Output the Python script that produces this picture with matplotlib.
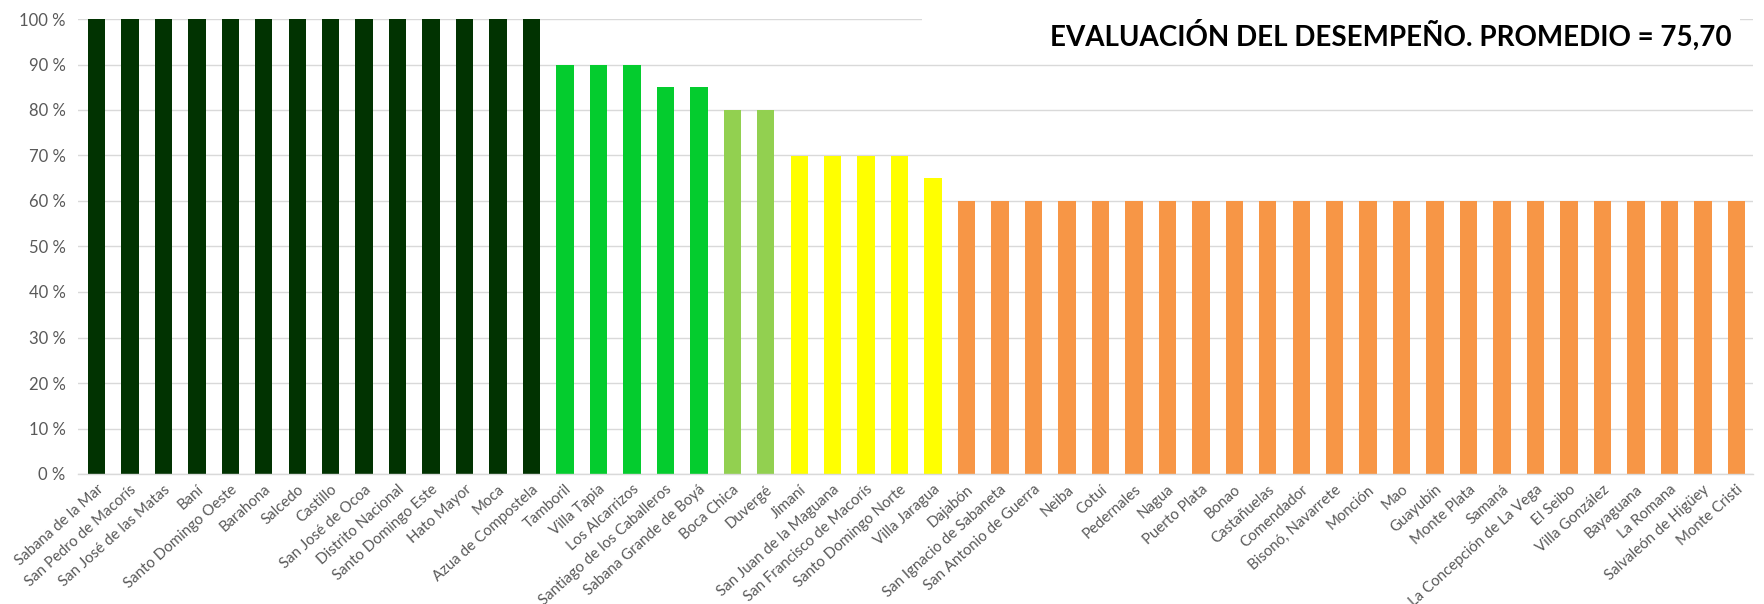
import matplotlib
matplotlib.use("Agg")
import matplotlib.pyplot as plt
from matplotlib.ticker import FuncFormatter, MultipleLocator

categories = [
    "Sabana de la Mar", "San Pedro de Macorís", "San José de las Matas", "Baní",
    "Santo Domingo Oeste", "Barahona", "Salcedo", "Castillo", "San José de Ocoa",
    "Distrito Nacional", "Santo Domingo Este", "Hato Mayor", "Moca",
    "Azua de Compostela", "Tamboril", "Villa Tapia", "Los Alcarrizos",
    "Santiago de los Caballeros", "Sabana Grande de Boyá", "Boca Chica", "Duvergé",
    "Jimaní", "San Juan de la Maguana", "San Francisco de Macorís",
    "Santo Domingo Norte", "Villa Jaragua", "Dajabón", "San Ignacio de Sabaneta",
    "San Antonio de Guerra", "Neiba", "Cotuí", "Pedernales", "Nagua", "Puerto Plata",
    "Bonao", "Castañuelas", "Comendador", "Bisonó, Navarrete", "Monción", "Mao",
    "Guayubín", "Monte Plata", "Samaná", "La Concepción de La Vega", "El Seibo",
    "Villa González", "Bayaguana", "La Romana", "Salvaleón de Higüey", "Monte Cristi",
]
values = [100] * 14 + [90, 90, 90, 85, 85, 80, 80, 70, 70, 70, 70, 65] + [60] * 24

title = "EVALUACIÓN DEL DESEMPEÑO. PROMEDIO = 75,70"

def bar_color(v):
    if v >= 100:
        return "#013301"
    if v >= 85:
        return "#04CC2E"
    if v >= 80:
        return "#92D050"
    if v >= 65:
        return "#FFFF00"
    return "#F79646"

colors = [bar_color(v) for v in values]

W, H = 1764, 604
fig = plt.figure(figsize=(W / 100, H / 100), dpi=100)
left, right, top, bottom = 78, 1753, 19, 474
ax = fig.add_axes([left / W, 1 - bottom / H, (right - left) / W, (bottom - top) / H])

x = list(range(len(categories)))
ax.bar(x, [v / 100 for v in values], width=0.52, color=colors, zorder=2)

ax.set_xlim(-0.55, len(categories) - 0.5)
ax.set_ylim(0, 1.0)
ax.yaxis.set_major_locator(MultipleLocator(0.1))
ax.yaxis.set_major_formatter(FuncFormatter(lambda v, p: f"{v*100:.0f} %"))
ax.grid(axis="y", color="#D9D9D9", linewidth=1.0, zorder=0)
ax.set_axisbelow(True)
for s in ["top", "right", "left"]:
    ax.spines[s].set_visible(False)
ax.spines["bottom"].set_color("#D9D9D9")
ax.spines["bottom"].set_linewidth(1.0)
ax.tick_params(axis="both", length=0, colors="#595959")
ax.tick_params(axis="y", pad=9, labelsize=12)
ax.tick_params(axis="x", pad=6, labelsize=10.8)
ax.set_xticks(x)
ax.set_xticklabels(categories, rotation=42, ha="right", rotation_mode="anchor",
                   family=["Lato", "DejaVu Sans"], color="#595959")
for lab in ax.get_yticklabels():
    lab.set_family(["Lato", "DejaVu Sans"])

# title with white background covering the gridlines
fig.patches.append(plt.Rectangle((922 / W, 1 - 52 / H), (1740 - 922) / W, 52 / H,
                                 transform=fig.transFigure, facecolor="white",
                                 edgecolor="none", zorder=5))
fig.text(1391 / W, 1 - 35 / H, title, ha="center", va="center",
         fontsize=20, fontweight="bold", color="black", zorder=6,
         family=["Lato", "DejaVu Sans"])

fig.savefig("out.png", dpi=100)
